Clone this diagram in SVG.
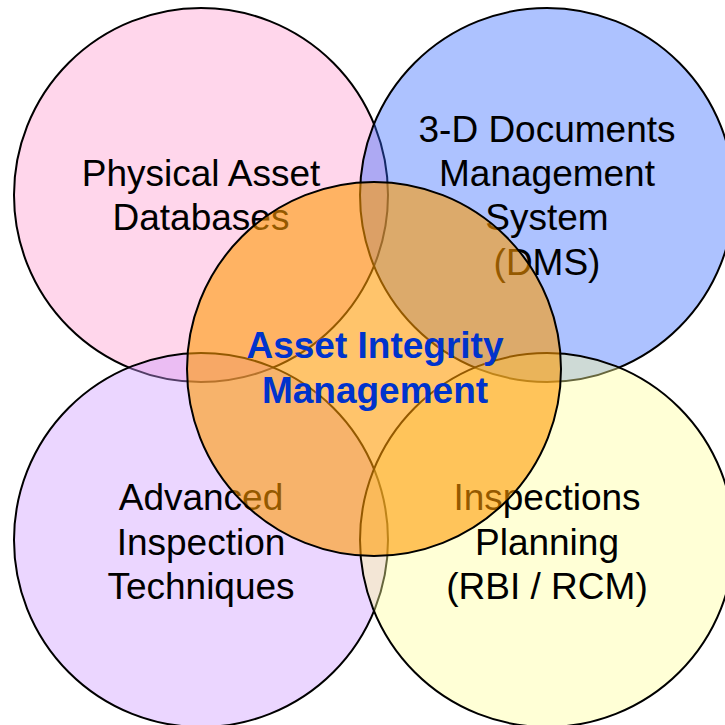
<svg xmlns="http://www.w3.org/2000/svg" width="725" height="725" viewBox="0 0 725 725">
<style>
.c{stroke:#000;stroke-width:2}
.t{font-family:"Liberation Sans",Arial,sans-serif;font-size:37px;fill:#000;text-anchor:middle}
.m{font-family:"Liberation Sans",Arial,sans-serif;font-size:37px;font-weight:bold;fill:#0033CC;text-anchor:middle}
</style>
<rect width="725" height="725" fill="#fff"/>
<g id="physical-asset">
<circle class="c" cx="201" cy="195" r="187" fill="#FF99CC" fill-opacity="0.4"/>
</g>
<g id="dms">
<circle class="c" cx="547" cy="195" r="187" fill="#3366FF" fill-opacity="0.4"/>
</g>
<g id="advanced-inspection">
<circle class="c" cx="201" cy="540" r="187" fill="#CC99FF" fill-opacity="0.4"/>
</g>
<g id="inspection-planning">
<circle class="c" cx="547" cy="540" r="187" fill="#FFFF99" fill-opacity="0.4"/>
</g>
<g id="labels">
<text class="t" x="201" y="186">Physical Asset</text>
<text class="t" x="201" y="230">Databases</text>
<text class="t" x="547" y="142">3-D Documents</text>
<text class="t" x="547" y="186">Management</text>
<text class="t" x="547" y="230">System</text>
<text class="t" x="547" y="275">(DMS)</text>
<text class="t" x="201" y="510">Advanced</text>
<text class="t" x="201" y="555">Inspection</text>
<text class="t" x="201" y="599">Techniques</text>
<text class="t" x="547" y="510">Inspections</text>
<text class="t" x="547" y="555">Planning</text>
<text class="t" x="547" y="599">(RBI / RCM)</text>
</g>
<g id="aim">
<circle class="c" cx="374" cy="369" r="187" fill="#FF9900" fill-opacity="0.58"/>
<text class="m" x="375" y="358">Asset Integrity</text>
<text class="m" x="375" y="403">Management</text>
</g>
<g id="connectors"/>
</svg>
